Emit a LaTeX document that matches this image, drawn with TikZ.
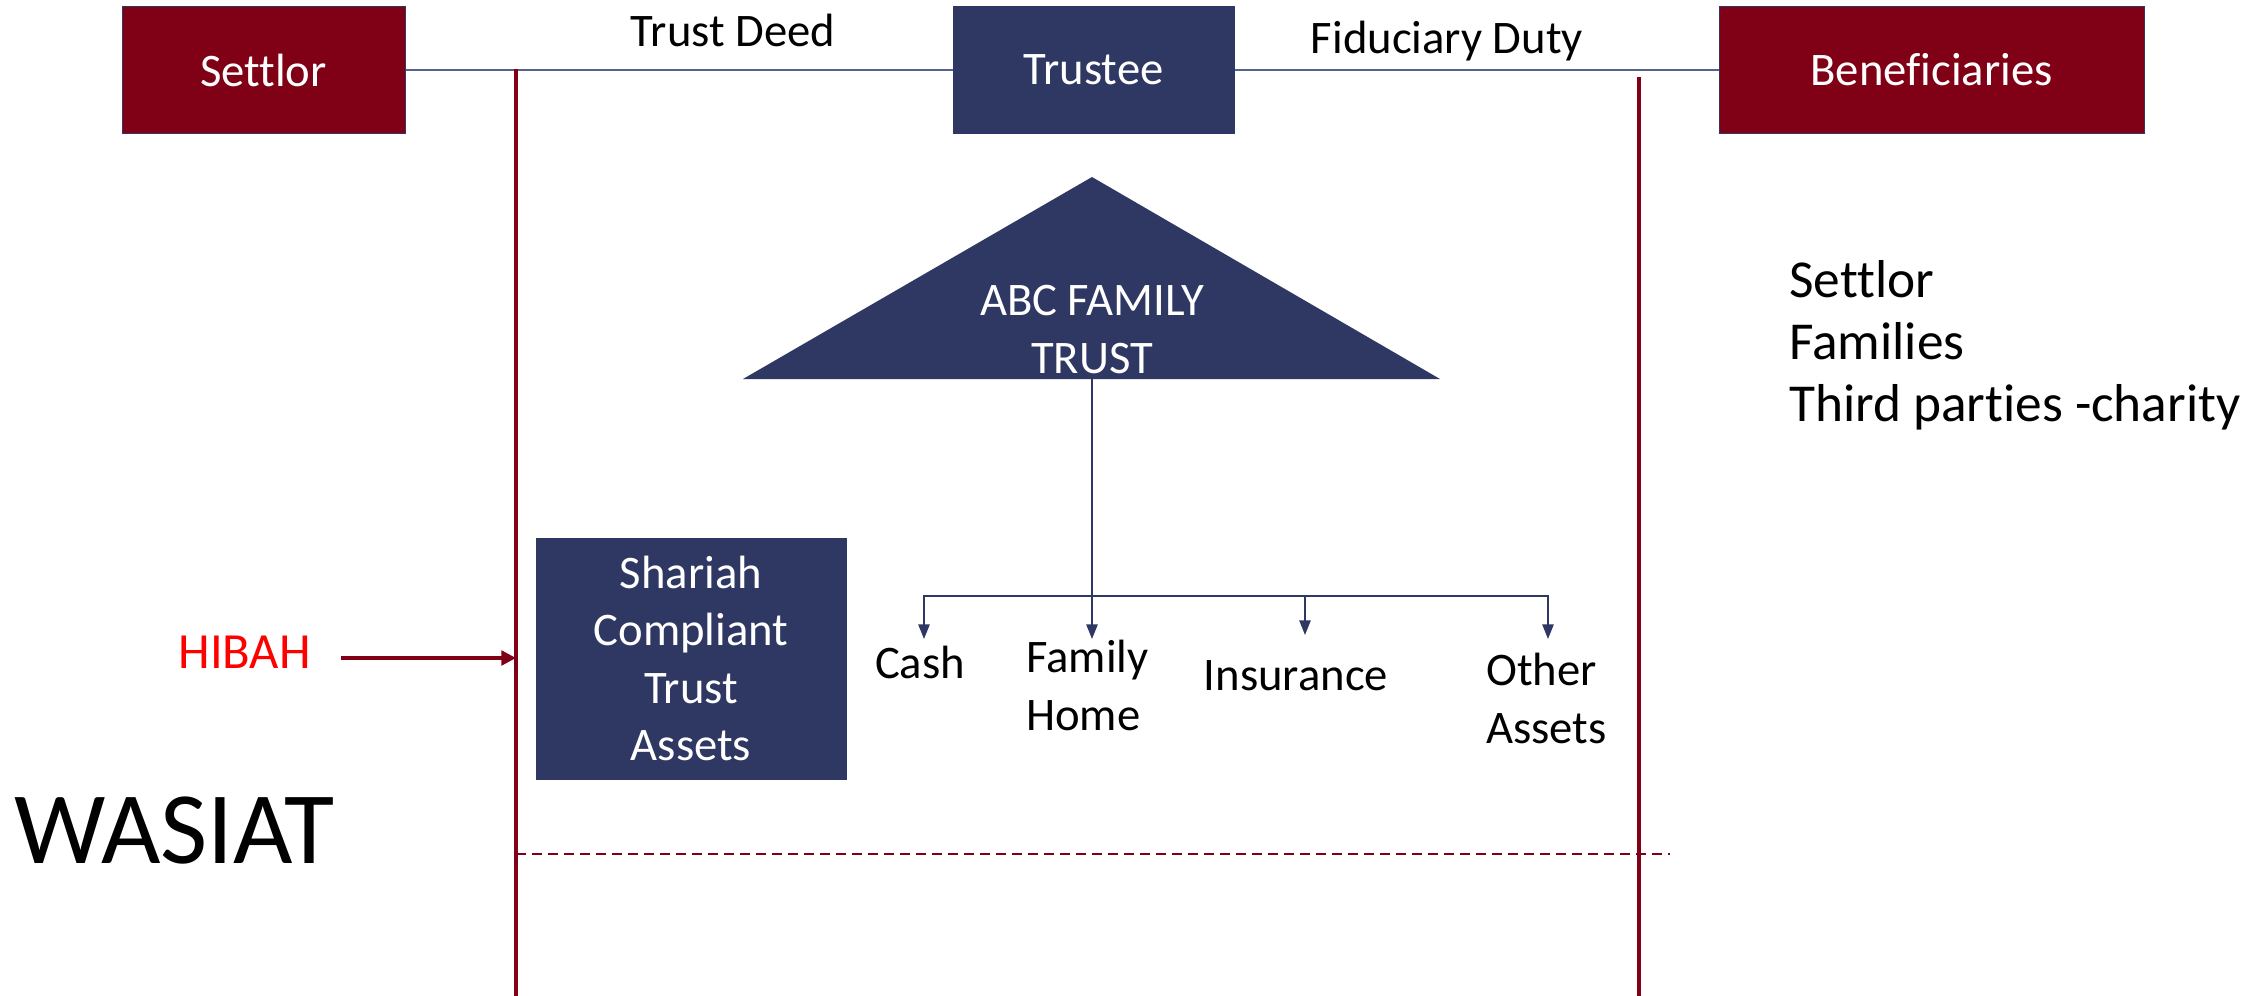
\documentclass[tikz,border=0pt]{standalone}
\usepackage{fontspec}
\setmainfont{Carlito}[Ligatures={NoCommon}]
\usetikzlibrary{arrows.meta}

\definecolor{trustnavy}{RGB}{47,55,99}
\definecolor{trustred}{RGB}{128,0,21}
\definecolor{linkgray}{RGB}{84,100,140}

\tikzset{
  party/.style={draw=trustnavy, line width=0.75pt, inner sep=0pt, text=white,
    minimum height=95.25pt, font=\fontsize{35}{43}\selectfont, align=center},
  tag/.style={inner sep=0pt, font=\fontsize{35}{43}\selectfont},
  link/.style={draw=linkgray, line width=1pt},
  stem/.style={draw=trustnavy, line width=0.9pt},
  branch/.style={draw=trustnavy, line width=1.2pt, -{Triangle[length=11pt,width=8.5pt]}},
  boundary/.style={draw=trustred, line width=2.6pt},
  cut/.style={draw=trustred, line width=1.6pt, dash pattern=on 7.5pt off 4.5pt},
  gift/.style={draw=trustred, line width=2.4pt, -{Triangle[length=11pt,width=11pt]}},
}

\begin{document}
\begin{tikzpicture}[x=0.75pt,y=0.75pt,yscale=-1,xscale=1]
\path[use as bounding box, fill=white] (0,0) rectangle (2260,996);

%Shape: Rectangle
\node[party, fill=trustred, minimum width=212.25pt] (settlor) at (263.5,70) {Settlor};
%Shape: Rectangle
\node[party, fill=trustnavy, minimum width=210.75pt] (trustee) at (1093.5,70) {Trustee};
%Shape: Rectangle
\node[party, fill=trustred, minimum width=318.75pt] (beneficiaries) at (1931.5,70) {Beneficiaries};

%Straight Lines
\draw[link] (settlor) -- (trustee);
\draw[link] (trustee) -- (beneficiaries);

% Text Node
\node[tag, anchor=base] (deed) at (733,46) {Trust Deed};
% Text Node
\node[tag, anchor=base] (duty) at (1447,53) {Fiduciary Duty};

%Shape: Triangle
\fill[trustnavy] (1092,177) -- (1440,379) -- (743,379) -- cycle;
\node[tag, text=white, align=center] (abc) at (1092,329.5) {ABC FAMILY\\TRUST};
\coordinate (trustbase) at (1092,379);
\coordinate (fork) at (1092,596);

%Straight Lines
\draw[stem] (trustbase) -- (fork);
\coordinate (cashin) at (924,639);
\coordinate (homein) at (1092,639);
\coordinate (insurancein) at (1305,635);
\coordinate (otherin) at (1548,639);
\draw[branch] (fork) -| (cashin);
\draw[branch] (fork) -- (homein);
\draw[branch] (fork) -| (insurancein);
\draw[branch] (fork) -| (otherin);

% Text Node
\node[tag, anchor=base] (cash) at (920,678) {Cash};
% Text Node
\node[tag, anchor=north west, align=left] (home) at (1026,640) {Family\\Home};
% Text Node
\node[tag, anchor=base] (insurance) at (1296,690) {Insurance};
% Text Node
\node[tag, anchor=north west, align=left] (other) at (1486,653) {Other\\Assets};

%Shape: Rectangle
\node[party, fill=trustnavy, minimum width=232.5pt, minimum height=180.75pt] (shariah) at (691,658.5) {Shariah\\Compliant\\Trust\\Assets};

%Straight Lines
\coordinate (lefttop) at (516,69);
\coordinate (leftfoot) at (516,996);
\coordinate (righttop) at (1639,77);
\coordinate (rightfoot) at (1639,996);
\draw[boundary] (lefttop) -- (leftfoot);
\draw[boundary] (righttop) -- (rightfoot);

%Straight Lines
\coordinate (cutleft) at (516,854);
\coordinate (cutright) at (1670,854);
\draw[cut] (cutleft) -- (cutright);

% Text Node
\node[inner sep=0pt, text=red, text depth=9pt, anchor=east, font=\fontsize{38}{46}\selectfont] (hibah) at (311,658) {HIBAH};
\draw[gift, shorten <=22.5pt] (hibah.east) -- (hibah.east -| lefttop);

% Text Node
\node[inner sep=0pt, anchor=base west, font=\fontsize{77}{92}\selectfont] (wasiat) at (14,863) {WASIAT};

% Text Node
\node[inner sep=0pt, anchor=north west, align=left, font=\fontsize{40}{46.5}\selectfont] (parties) at (1789,260) {Settlor\\Families\\Third parties -charity};

\end{tikzpicture}
\end{document}
